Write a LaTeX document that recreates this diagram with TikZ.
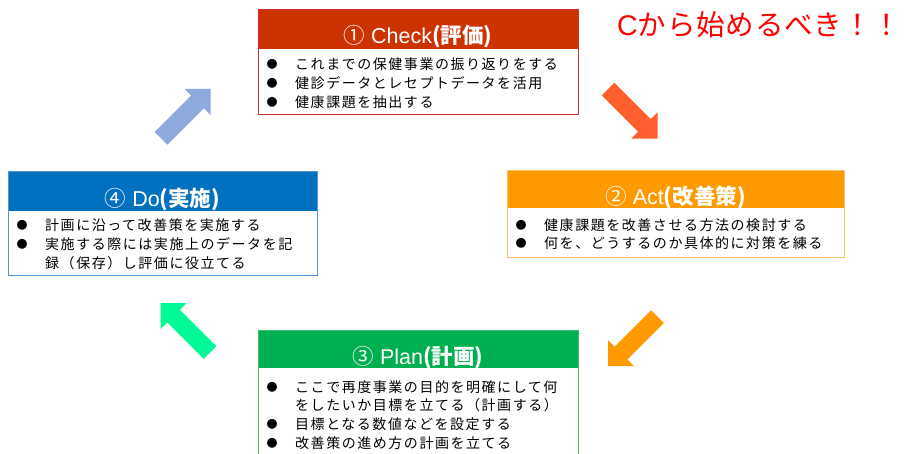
\documentclass[tikz,border=0pt]{standalone}
\usepackage{fontspec}
\setmainfont{Liberation Sans}
\newfontfamily\jp{Noto Sans CJK JP}
\newfontfamily\jpls[LetterSpace=11]{Noto Sans CJK JP}
\newfontfamily\jpred[LetterSpace=3]{Noto Sans CJK JP}
\definecolor{chkH}{RGB}{204,51,0}
\definecolor{chkB}{RGB}{210,50,50}
\definecolor{actH}{RGB}{255,153,0}
\definecolor{actB}{RGB}{255,190,110}
\definecolor{doH}{RGB}{0,112,192}
\definecolor{doB}{RGB}{80,150,210}
\definecolor{plnH}{RGB}{0,176,80}
\definecolor{plnB}{RGB}{60,190,110}
\definecolor{arBlue}{RGB}{142,169,219}
\definecolor{arRed}{RGB}{255,95,45}
\definecolor{arOrg}{RGB}{255,153,0}
\definecolor{arGrn}{RGB}{0,250,150}
\tikzset{
  hdr/.style={fill=#1, draw=none, inner sep=0, anchor=north west},
  frame/.style={draw=#1, line width=1pt, fill=none, inner sep=0, anchor=north west},
  ttl/.style={text=white, inner sep=0, anchor=base, font=\fontsize{21.5}{23}\selectfont},
  li/.style={inner sep=0, anchor=base west, font=\jpls\fontsize{14}{18}\selectfont},
}
\newcommand\bodylines[5]{%
  \foreach \bu/\txt [count=\i] in {#5} {
    \node[li] (#1-\i) at ({#2+37},{#3+(\i-1)*#4})
      {\ifnum\bu=1 \llap{\raisebox{1pt}{\jp\fontsize{11}{11}\selectfont ●}\hspace{17.5pt}}\fi\txt};
  }}
\newcommand\blockarrow[4]{%
  \begin{scope}[shift={(#2,#3)}, rotate=#4]
    \fill[#1] (0,-9) -- (51.5,-9) -- (51.5,-18.5) -- (70,0) -- (51.5,18.5) -- (51.5,9) -- (0,9) -- cycle;
  \end{scope}}
\begin{document}
\begin{tikzpicture}[x=1pt, y=-1pt]
\useasboundingbox (0,0) rectangle (904,453);
\clip (0,0) rectangle (904,453);

% Check
\node[hdr=chkH, minimum width=320pt, minimum height=40pt] (checkH) at (258,9) {};
\node[frame=chkB, minimum width=320pt, minimum height=105pt] (check) at (258,9) {};
\node[ttl] (checkT) at (418,43) {{\jp ①} Check{\jp\bfseries (評価)}};
\bodylines{check}{258}{69.6}{18.7}{1/これまでの保健事業の振り返りをする, 1/健診データとレセプトデータを活用, 1/健康課題を抽出する}

% Act
\node[hdr=actH, minimum width=337pt, minimum height=38pt] (actH) at (507,170) {};
\node[frame=actB, minimum width=337pt, minimum height=87pt] (act) at (507,170) {};
\node[ttl] (actT) at (675.5,204) {{\jp ②} Act{\jp\bfseries (改善策)}};
\bodylines{act}{507}{230.3}{18.3}{1/健康課題を改善させる方法の検討する, 1/何を、どうするのか具体的に対策を練る}

% Do
\node[hdr=doH, minimum width=309pt, minimum height=40pt] (doH) at (8,171) {};
\node[frame=doB, minimum width=309pt, minimum height=104pt] (do) at (8,171) {};
\node[ttl] (doT) at (162.5,206) {{\jp ④} Do{\jp\bfseries (実施)}};
\bodylines{do}{8}{230}{19.2}{1/計画に沿って改善策を実施する, 1/実施する際には実施上のデータを記, 0/録（保存）し評価に役立てる}

% Plan
\node[hdr=plnH, minimum width=320pt, minimum height=38pt] (planH) at (258,330) {};
\node[frame=plnB, minimum width=320pt, minimum height=130pt] (plan) at (258,330) {};
\node[ttl] (planT) at (418,364) {{\jp ③} Plan{\jp\bfseries (計画)}};
\bodylines{plan}{258}{392}{18.9}{1/ここで再度事業の目的を明確にして何, 0/をしたいか目標を立てる（計画する）, 1/目標となる数値などを設定する, 1/改善策の進め方の計画を立てる}

% cycle arrows
\blockarrow{arBlue}{161}{138.3}{45}
\blockarrow{arRed}{608}{89}{-45}
\blockarrow{arOrg}{657.5}{316.7}{-135}
\blockarrow{arGrn}{210}{352.5}{135}

% slogan
\node[anchor=base west, text=red, inner sep=0, font=\fontsize{28.5}{30}\selectfont] (slogan) at (617,35) {C{\jpred から始めるべき！！}};
\end{tikzpicture}
\end{document}
